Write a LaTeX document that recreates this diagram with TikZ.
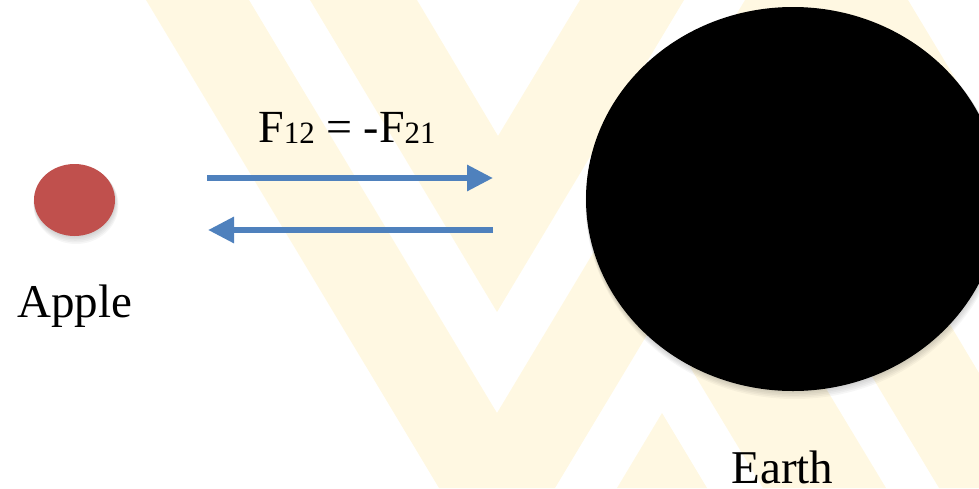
\documentclass[tikz,border=0pt]{standalone}
\usepackage{fontspec}
\setmainfont{Liberation Serif}
\usetikzlibrary{arrows.meta, shapes.geometric}

\definecolor{applered}{RGB}{192,80,77}
\definecolor{forceblue}{RGB}{79,129,189}
\definecolor{markyellow}{RGB}{255,248,226}

\newcommand{\forcesub}[1]{\raisebox{-1.5pt}{\fontsize{31}{31}\selectfont #1}}

\begin{document}
\begin{tikzpicture}[x=1pt, y=-1pt,
  force/.style={line width=6pt, draw=forceblue, -{Triangle[length=26pt, width=25pt]}},
  word/.style={anchor=base, inner sep=0pt, font=\fontsize{47}{56}\selectfont},
  body/.style={ellipse, draw=none, inner sep=0pt}]
  \useasboundingbox (0,0) rectangle (979,488);
  \clip (0,0) rectangle (979,488);

  % faint watermark bands
  \fill[markyellow] (146,0) -- (249,0) -- (497,413) -- (745,0) -- (848,0) -- (555,488) -- (439,488) -- cycle;
  \fill[markyellow] (310,0) -- (417,0) -- (498,136) -- (580,0) -- (684,0) -- (497,312) -- cycle;
  \fill[markyellow] (810,0) -- (908,0) -- (979,118) -- (979,282) -- cycle;
  \fill[markyellow] (662,413) -- (707,488) -- (617,488) -- cycle;
  \fill[markyellow] (690,367) -- (751,264) -- (886,488) -- (763,488) -- cycle;
  \fill[markyellow] (778,220) -- (833,129) -- (979,373) -- (979,488) -- (939,488) -- cycle;

  % soft shadows under the bodies
  \foreach \i in {1,...,5} {
    \fill[black, opacity=0.035] (74.5+0.3*\i, 200+\i) ellipse ({40.5+0.4*\i} and {36+0.6*\i});
    \fill[black, opacity=0.035] (793+0.3*\i, 199+\i) ellipse ({207+0.4*\i} and {192+0.6*\i});
  }

  \node[body, fill=applered, minimum width=81pt, minimum height=72pt] (apple) at (74.5,200) {};
  \node[body, fill=black, minimum width=414pt, minimum height=384pt] (earth) at (793,199) {};

  \node[word] (applename) at (74.5,317) {Apple};
  \node[word] (earthname) at (782.5,483) {Earth};
  \node[word, font=\fontsize{46}{55}\selectfont] (law) at (347,142) {F\forcesub{12} = -F\forcesub{21}};

  \coordinate (pullA) at (207,178);
  \coordinate (pullB) at (493,178);
  \coordinate (backA) at (493,230);
  \coordinate (backB) at (208,230);

  \draw[force] (pullA) -- (pullB);
  \draw[force] (backA) -- (backB);
\end{tikzpicture}
\end{document}
